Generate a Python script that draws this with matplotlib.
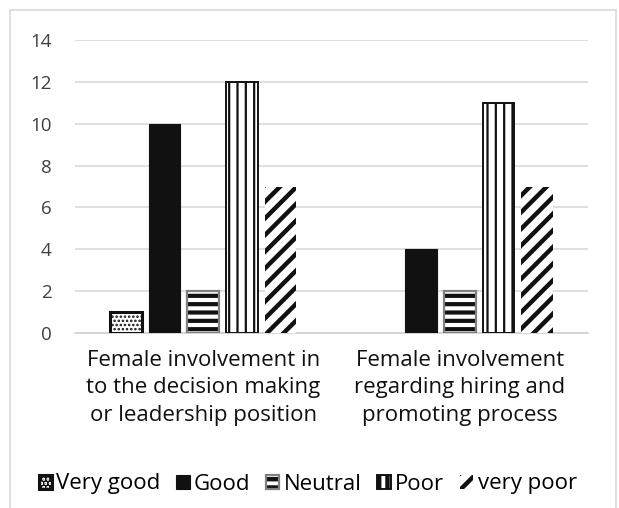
import matplotlib.pyplot as plt
import numpy as np
from matplotlib.patches import Rectangle

categories = [
    "Female involvement in\nto the decision making\nor leadership position",
    "Female involvement\nregarding hiring and\npromoting process",
]
ratings = ["Very good", "Good", "Neutral", "Poor", "very poor"]
very_good = [1, 0]
good = [10, 4]
neutral = [2, 2]
poor = [12, 11]
very_poor = [7, 7]
y_ticks = [0, 2, 4, 6, 8, 10, 12, 14]

series = [very_good, good, neutral, poor, very_poor]

# estilo de cada serie: (cor, hatch, largura da borda, largura do hatch, cor da moldura)
estilos = [
    ("white", "....", 2.2, 1.2, None),
    ("#111111", None, 0.8, 1.0, None),
    ("white", "--", 0.0, 3.0, "#808080"),
    ("white", "||", 1.4, 1.6, None),
    ("white", "//", 0.0, 3.2, None),
]

plt.rcParams['font.family'] = ['Open Sans', 'DejaVu Sans']
plt.rcParams['hatch.color'] = '#111111'

fig = plt.figure(figsize=(6.19, 5.08), dpi=100)
ax = fig.add_axes([75 / 619, 175 / 508, 513 / 619, 293 / 508])

x = np.arange(len(categories))
largura = 0.123
passo = 0.151

handles = []
for i, (valores, nome) in enumerate(zip(series, ratings)):
    cor, hatch, lw, hlw, moldura = estilos[i]
    plt.rcParams['hatch.linewidth'] = hlw
    pos = x + (i - 2) * passo
    barras = ax.bar(pos, valores, width=largura, color=cor, hatch=hatch,
                    edgecolor='#111111', linewidth=lw, label=nome, zorder=3)
    for b in barras:
        if hasattr(b, "set_hatch_linewidth"):
            b.set_hatch_linewidth(hlw)
        if b.get_height() == 0:
            b.set_visible(False)
    if moldura:
        # contorno cinza por cima do hatch preto
        contorno = ax.bar(pos, valores, width=largura, fill=False,
                          edgecolor=moldura, linewidth=1.6, zorder=4)
        handles.append((barras, contorno))
    else:
        handles.append(barras)

ax.set_xlim(-0.5, 1.5)
ax.set_ylim(0, 14)
ax.set_yticks(y_ticks)
ax.tick_params(axis='y', length=0, labelsize=13.5, labelcolor='#404040', pad=17)
ax.set_xticks(x)
ax.set_xticklabels(categories, fontsize=16, color='#111111', linespacing=1.42)
ax.tick_params(axis='x', length=0, pad=12)
ax.grid(axis='y', color='#d9d9d9', linewidth=1.2, zorder=0)
for lado in ['top', 'right', 'left']:
    ax.spines[lado].set_visible(False)
ax.spines['bottom'].set_color('#d0d0d0')
ax.spines['bottom'].set_linewidth(1.2)

fig.legend(handles=handles, labels=ratings, loc='center', bbox_to_anchor=(0.497, 24 / 508),
           ncol=5, frameon=False, fontsize=16, handlelength=0.6, handleheight=0.6,
           handletextpad=0.2, columnspacing=0.7)

# moldura externa do grafico
fig.patches.append(Rectangle((10 / 619, -0.01), 606 / 619, 498 / 508 + 0.01,
                             transform=fig.transFigure, fill=False,
                             edgecolor='#d9d9d9', linewidth=1.2))

fig.savefig('out.png', dpi=100)
